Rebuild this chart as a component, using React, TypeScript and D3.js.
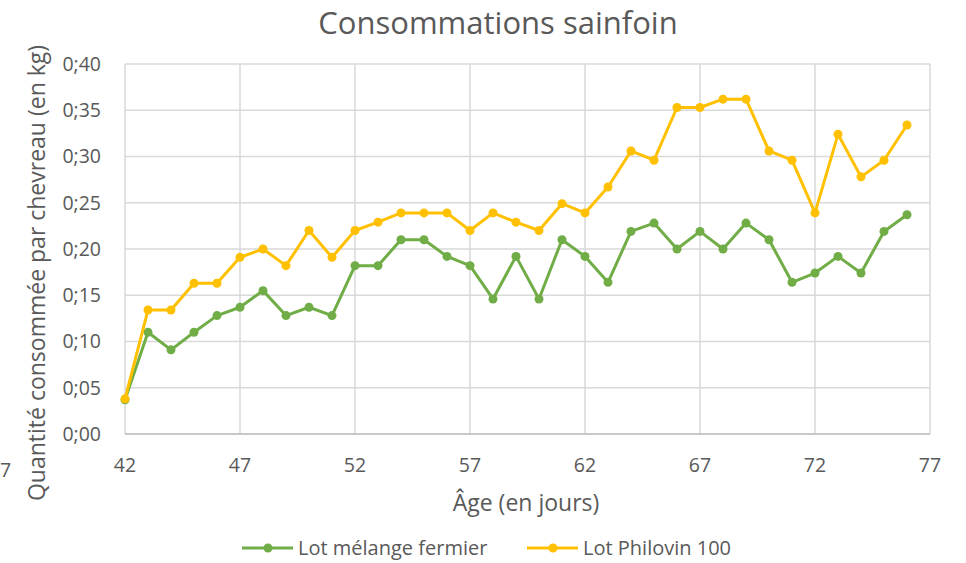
import React from 'react';
import * as d3 from 'd3';

const days = d3.range(42, 77);
const melangeFermier = [
  0.037, 0.110, 0.091, 0.110, 0.128, 0.137, 0.155, 0.128, 0.137, 0.128,
  0.182, 0.182, 0.210, 0.210, 0.192, 0.182, 0.146, 0.192, 0.146, 0.210,
  0.192, 0.164, 0.219, 0.228, 0.200, 0.219, 0.200, 0.228, 0.210, 0.164,
  0.174, 0.192, 0.174, 0.219, 0.237,
];
const philovin100 = [
  0.038, 0.134, 0.134, 0.163, 0.163, 0.191, 0.200, 0.182, 0.220, 0.191,
  0.220, 0.229, 0.239, 0.239, 0.239, 0.220, 0.239, 0.229, 0.220, 0.249,
  0.239, 0.267, 0.306, 0.296, 0.353, 0.353, 0.362, 0.362, 0.306, 0.296,
  0.239, 0.324, 0.278, 0.296, 0.334,
];
const xTicks = [42, 47, 52, 57, 62, 67, 72, 77];
const yTicks = [0, 0.05, 0.1, 0.15, 0.2, 0.25, 0.3, 0.35, 0.4];

const series = [
  { name: 'Lot mélange fermier', values: melangeFermier, color: '#70AD47' },
  { name: 'Lot Philovin 100', values: philovin100, color: '#FFC000' },
];

const W = 966;
const H = 563;
const left = 125;
const right = 930;
const top = 64;
const bottom = 434;
const font = "'Open Sans', 'Noto Sans', sans-serif";
const textColor = '#595959';

export default function App() {
  const x = d3.scaleLinear().domain([42, 77]).range([left, right]);
  const y = d3.scaleLinear().domain([0, 0.4]).range([bottom, top]);
  const fmt = (v: number) => v.toFixed(2).replace('.', ';');

  const line = d3
    .line<number>()
    .x((_, i) => x(days[i]))
    .y(d => y(d));

  return (
    <svg
      width={W}
      height={H}
      style={{ position: 'absolute', left: 0, top: 0, background: '#fff' }}
      fontFamily={font}
    >
      <text x={498} y={34} textAnchor="middle" fontSize={31} fill={textColor}>
        Consommations sainfoin
      </text>

      {yTicks.map(t => (
        <g key={t}>
          <line x1={left} x2={right} y1={y(t)} y2={y(t)} stroke="#D9D9D9" strokeWidth={1.5} />
          <text x={101} y={y(t)} dy="0.35em" textAnchor="end" fontSize={19.5} fill={textColor}>
            {fmt(t)}
          </text>
        </g>
      ))}
      {xTicks.map(t => (
        <g key={t}>
          <line x1={x(t)} x2={x(t)} y1={top} y2={bottom} stroke="#D9D9D9" strokeWidth={1.5} />
          <text x={x(t)} y={465} dy="0.35em" textAnchor="middle" fontSize={19.5} fill={textColor}>
            {t}
          </text>
        </g>
      ))}
      <line x1={left} x2={right} y1={bottom} y2={bottom} stroke="#BFBFBF" strokeWidth={1.5} />

      {series.map(s => (
        <g key={s.name}>
          <path d={line(s.values) as string} fill="none" stroke={s.color} strokeWidth={3} strokeLinejoin="round" />
          {s.values.map((v, i) => (
            <circle key={i} cx={x(days[i])} cy={y(v)} r={4.5} fill={s.color} />
          ))}
        </g>
      ))}

      <text x={526} y={503} dy="0.35em" textAnchor="middle" fontSize={23} fill={textColor}>
        Âge (en jours)
      </text>
      <text
        transform={`translate(45,273) rotate(-90)`}
        textAnchor="middle"
        fontSize={23}
        fill={textColor}
      >
        Quantité consommée par chevreau (en kg)
      </text>
      <text x={0} y={470} dy="0.35em" fontSize={19.5} fill={textColor}>
        7
      </text>

      {series.map((s, i) => {
        const lx = i === 0 ? 242 : 527;
        return (
          <g key={s.name}>
            <line x1={lx} x2={lx + 51} y1={548} y2={548} stroke={s.color} strokeWidth={3} />
            <circle cx={lx + 26} cy={548} r={4.5} fill={s.color} />
            <text x={lx + 56} y={548} dy="0.35em" fontSize={20} fill={textColor}>
              {s.name}
            </text>
          </g>
        );
      })}
    </svg>
  );
}
